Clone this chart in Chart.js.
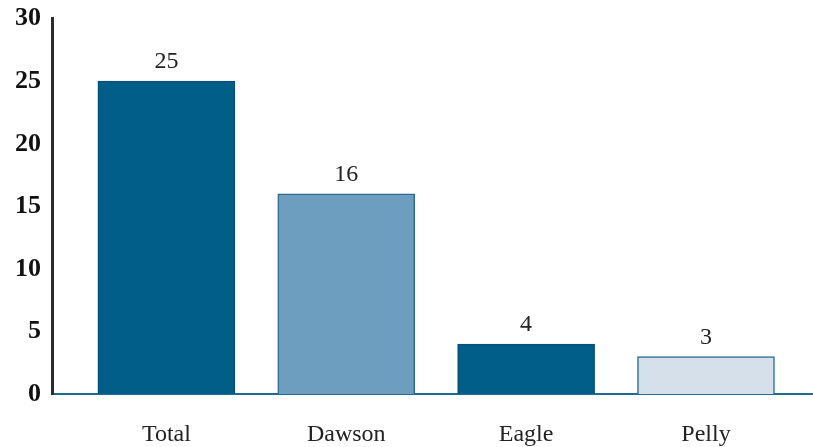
<!DOCTYPE html><html lang="en"><head><meta charset="utf-8"/>
<title>Counts</title>
<script src="https://cdn.jsdelivr.net/npm/chart.js@4.4.1/dist/chart.umd.min.js"></script>
<style>
  html,body{margin:0;padding:0;background:#fff}
  .wrap{width:813px;height:447px;position:relative}
</style></head><body>
<div class="wrap"><canvas id="c"></canvas></div>
<script>
const categories = ['Total', 'Dawson', 'Eagle', 'Pelly'];
const values = [25, 16, 4, 3];
const fills = ['#005e89', '#6e9ebf', '#005e89', '#d5e0ea'];
const borders = ['#004f74', '#2d6990', '#004f74', '#2a6d95'];
const yTicks = [0, 5, 10, 15, 20, 25, 30];

const serif = '"Liberation Serif", "DejaVu Serif", serif';

// value above each bar
const valueLabels = {
  id: 'valueLabels',
  afterDatasetsDraw(chart) {
    const ctx = chart.ctx;
    const meta = chart.getDatasetMeta(0);
    ctx.save();
    ctx.font = '24px ' + serif;
    ctx.fillStyle = '#222';
    ctx.textAlign = 'center';
    ctx.textBaseline = 'alphabetic';
    meta.data.forEach((bar, i) => {
      ctx.fillText(String(values[i]), bar.x, bar.y - 13);
    });
    ctx.restore();
  }
};

new Chart(document.getElementById('c'), {
  type: 'bar',
  data: {
    datasets: [{
      data: values.map((v, i) => ({x: i, y: v})),
      backgroundColor: fills,
      borderColor: borders,
      borderWidth: 1.5,
      barThickness: 137
    }]
  },
  options: {
    responsive: true,
    maintainAspectRatio: false,
    animation: false,
    layout: {padding: {top: 0, right: 0, left: 12, bottom: -20}},
    plugins: {legend: {display: false}, tooltip: {enabled: false}},
    scales: {
      x: {
        type: 'linear',
        offset: false,
        min: -0.636,
        max: 3.595,
        afterBuildTicks: s => { s.ticks = categories.map((c, i) => ({value: i})); },
        ticks: {
          callback: v => categories[v],
          font: {family: serif, size: 24},
          color: '#222',
          padding: 18,
          maxRotation: 0
        },
        grid: {display: false},
        border: {display: true, color: '#1f6a93', width: 2}
      },
      y: {
        min: 0,
        max: 30,
        afterBuildTicks: s => { s.ticks = yTicks.map(v => ({value: v})); },
        ticks: {
          font: {family: serif, size: 26, weight: 'bold'},
          color: '#111',
          padding: 3
        },
        grid: {display: false},
        border: {display: true, color: '#2b2b2b', width: 3}
      }
    }
  },
  plugins: [valueLabels]
});
</script></body></html>
